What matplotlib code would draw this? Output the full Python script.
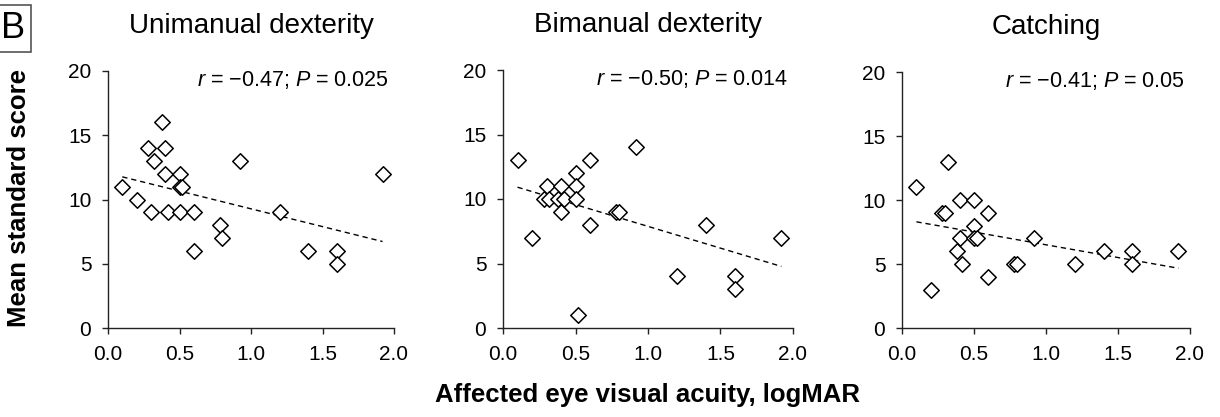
import numpy as np
import matplotlib
matplotlib.use('Agg')
import matplotlib.pyplot as plt
from matplotlib.patches import Rectangle

plt.rcParams['font.family'] = ['Liberation Sans', 'DejaVu Sans']
plt.rcParams['mathtext.fontset'] = 'custom'
plt.rcParams['mathtext.rm'] = 'Liberation Sans'
plt.rcParams['mathtext.it'] = 'Liberation Sans:italic'

# affected eye visual acuity (logMAR), same children in every panel
acuity = [0.10, 0.20, 0.28, 0.30, 0.32, 0.38, 0.40, 0.40, 0.42, 0.50, 0.50, 0.50,
          0.52, 0.60, 0.60, 0.78, 0.80, 0.92, 1.20, 1.40, 1.60, 1.60, 1.92]

unimanual = [11, 10, 14, 9, 13, 16, 14, 12, 9, 12, 11, 9,
             11, 9, 6, 8, 7, 13, 9, 6, 6, 5, 12]
bimanual = [13, 7, 10, 11, 10, 10, 11, 9, 10, 12, 11, 10,
            1, 13, 8, 9, 9, 14, 4, 8, 4, 3, 7]
catching = [11, 3, 9, 9, 13, 6, 10, 7, 5, 10, 8, 7,
            7, 9, 4, 5, 5, 7, 5, 6, 6, 5, 6]

titles = ['Unimanual dexterity', 'Bimanual dexterity', 'Catching']
stats = ['$\\mathit{r}$ = \u22120.47; $\\mathit{P}$ = 0.025',
         '$\\mathit{r}$ = \u22120.50; $\\mathit{P}$ = 0.014',
         '$\\mathit{r}$ = \u22120.41; $\\mathit{P}$ = 0.05']
scores = [unimanual, bimanual, catching]

W, H = 1220, 417
fig = plt.figure(figsize=(W / 100, H / 100), dpi=100)

# axes boxes in pixels: left, right, top(y=20), bottom(y=0)
boxes = [(108, 394, 71, 328), (503, 793, 70, 328), (902, 1190, 72, 328)]

for (l, r, t, b), title, txt, ys in zip(boxes, titles, stats, scores):
	ax = fig.add_axes([l / W, (H - b) / H, (r - l) / W, (b - t) / H])
	ax.scatter(acuity, ys, marker='D', s=62, facecolors='white',
			   edgecolors='black', linewidths=1.1, zorder=3)
	x = np.array(acuity)
	k, c = np.polyfit(x, np.array(ys, dtype=float), 1)
	xs = np.array([x.min(), x.max()])
	ax.plot(xs, k * xs + c, color='black', lw=1.0, dashes=(3.8, 2.8), zorder=2)

	ax.set_xlim(0, 2.0)
	ax.set_ylim(0, 20)
	ax.set_xticks([0, 0.5, 1.0, 1.5, 2.0])
	ax.set_xticklabels(['0.0', '0.5', '1.0', '1.5', '2.0'])
	ax.set_yticks([0, 5, 10, 15, 20])
	for side in ('top', 'right'):
		ax.spines[side].set_visible(False)
	for side in ('left', 'bottom'):
		ax.spines[side].set_color('#222222')
		ax.spines[side].set_linewidth(1.0)
	ax.tick_params(axis='both', direction='out', length=4.5, width=1.0,
				   colors='#222222', labelsize=15, labelcolor='black')
	ax.tick_params(axis='x', pad=8)
	ax.tick_params(axis='y', pad=7.5)
	ax.patch.set_visible(False)

	ax.text(0.5, 1 + 38 / (b - t), title, transform=ax.transAxes,
			ha='center', va='baseline', fontsize=20)
	ax.text(0.982, 18.8, txt, transform=ax.get_yaxis_transform(),
			ha='right', va='baseline', fontsize=15.5)

fig.text(19 / W, (H - 198) / H, 'Mean standard score', rotation=90,
		 ha='center', va='center', fontsize=18.5, fontweight='bold')
fig.text(648 / W, (H - 395) / H, 'Affected eye visual acuity, logMAR',
		 ha='center', va='center', fontsize=18.5, fontweight='bold')

# panel letter in a box at the top-left corner
fig.patches.append(Rectangle((-5 / W, (H - 52) / H), 36 / W, 47 / H,
							 transform=fig.transFigure, facecolor='white',
							 edgecolor='#555555', lw=1.2))
fig.text(13 / W, (H - 28) / H, 'B', ha='center', va='center', fontsize=26)

fig.savefig('out.png', dpi=100)
